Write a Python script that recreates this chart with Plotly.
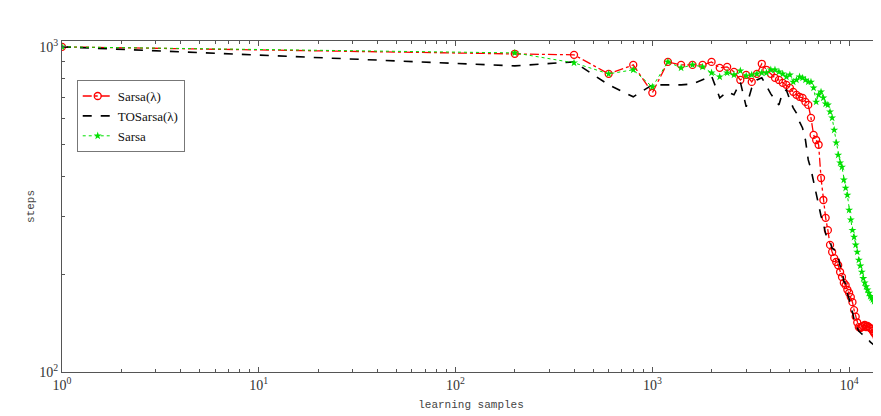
import plotly.graph_objects as go

# ---- data ----
samples = [1] + list(range(200, 14401, 200))

sarsa_lambda = [1000, 952, 945, 826, 880, 722, 899, 880, 880, 880, 899,
                862, 868, 838, 791, 820, 780, 826, 887, 850, 826,
                803, 791, 775, 764, 748, 727, 712, 702, 697, 677,
                663, 605, 536, 517, 500, 395, 338, 298, 273, 246,
                234, 224, 218, 213, 203, 196, 188, 185, 179, 175,
                170, 164, 155, 148, 142, 137.5, 136.6, 137.5, 138.5, 139.5,
                137.5, 138.5, 137.5, 136.6, 135.6, 133.7, 131.8, 130.9, 128.2, 127.3,
                126.3, 125.4]

tosarsa_lambda = [1000, 874, 899, 764, 702, 764, 764, 764, 769, 791, 814,
                  697, 727, 712, 780, 654, 748, 791, 803, 759, 717,
                  687, 663, 727, 737, 687, 649, 626, 588, 563, 517,
                  449, 420, 385, 352, 330, 302, 286, 266, 258, 252,
                  240, 238, 230, 226, 212, 206, 190, 187, 174, 168,
                  156, 153, 145, 140, 136.6, 133.7, 131.8, 130.9, 130, 128.2,
                  127.3, 126.3, 125.4, 123.7, 122.8, 121.9, 121.1, 120.2, 119.4, 118.5,
                  117.7, 116.9]

sarsa = [1000, 958, 893, 826, 850, 753, 899, 862, 880, 868, 832,
         809, 832, 820, 844, 814, 820, 826, 832, 832, 850,
         850, 838, 826, 809, 820, 780, 791, 809, 803, 791,
         780, 780, 748, 677, 712, 727, 697, 668, 663, 631,
         605, 555, 507, 465, 440, 427, 390, 368, 350, 315,
         294, 273, 260, 246, 234, 221, 212, 203, 194, 188,
         183, 179, 175, 171, 169, 167, 165, 163, 161, 158,
         156, 154]

x_tick_vals = [1, 10, 100, 1000, 10000]
x_tick_text = ["10<sup>0</sup>", "10<sup>1</sup>", "10<sup>2</sup>", "10<sup>3</sup>", "10<sup>4</sup>"]
y_tick_vals = [100, 1000]
y_tick_text = ["10<sup>2</sup>", "10<sup>3</sup>"]

minor_x = [d * 10 ** k for k in range(0, 5) for d in range(2, 10)]
minor_y = [d * 100 for d in range(2, 10)]

fig = go.Figure()
fig.add_trace(go.Scatter(
    x=samples, y=sarsa_lambda, name="Sarsa(λ)", mode="lines+markers",
    line=dict(color="#ff0000", width=1.3, dash="dashdot"),
    marker=dict(symbol="circle-open", size=7, color="#ff0000", line=dict(width=1.3)),
))
fig.add_trace(go.Scatter(
    x=samples, y=tosarsa_lambda, name="TOSarsa(λ)", mode="lines",
    line=dict(color="#000000", width=1.6, dash="dash"),
))
fig.add_trace(go.Scatter(
    x=samples, y=sarsa, name="Sarsa", mode="lines+markers",
    line=dict(color="#00e000", width=1, dash="dot"),
    marker=dict(symbol="star", size=6, color="#00e000"),
))

axis_common = dict(
    type="log", showgrid=False, zeroline=False, showline=True,
    linecolor="#555555", linewidth=1, mirror="allticks",
    ticks="inside", ticklen=5, tickcolor="#555555", automargin=False,
    tickfont=dict(family="Liberation Serif", size=14, color="#333333"),
)

fig.update_xaxes(
    **axis_common, range=[0, 4.157], tickmode="array",
    tickvals=x_tick_vals, ticktext=x_tick_text,
    minor=dict(ticks="inside", ticklen=3, tickcolor="#555555", tickvals=minor_x),
    title=dict(text="learning samples", standoff=8,
               font=dict(family="Liberation Mono", size=11, color="#444444")),
)
fig.update_yaxes(
    **axis_common, range=[2, 3.018], tickmode="array",
    tickvals=y_tick_vals, ticktext=y_tick_text,
    minor=dict(ticks="inside", ticklen=3, tickcolor="#555555", tickvals=minor_y),
    title=dict(text="steps", standoff=2,
               font=dict(family="Liberation Mono", size=11, color="#444444")),
)

# page body has an 8px default margin: size the figure so the plot area
# lands where the reference has it
fig.update_layout(
    width=873, height=408,
    margin=dict(l=54, r=1, t=33, b=44),
    paper_bgcolor="white", plot_bgcolor="white",
    showlegend=True,
    legend=dict(x=0.018, y=0.882, xanchor="left", yanchor="top",
                bordercolor="#777777", borderwidth=1, bgcolor="white",
                font=dict(family="Liberation Serif", size=13, color="#111111"),
                tracegroupgap=0, itemwidth=30),
)

fig.write_html("out.html")
